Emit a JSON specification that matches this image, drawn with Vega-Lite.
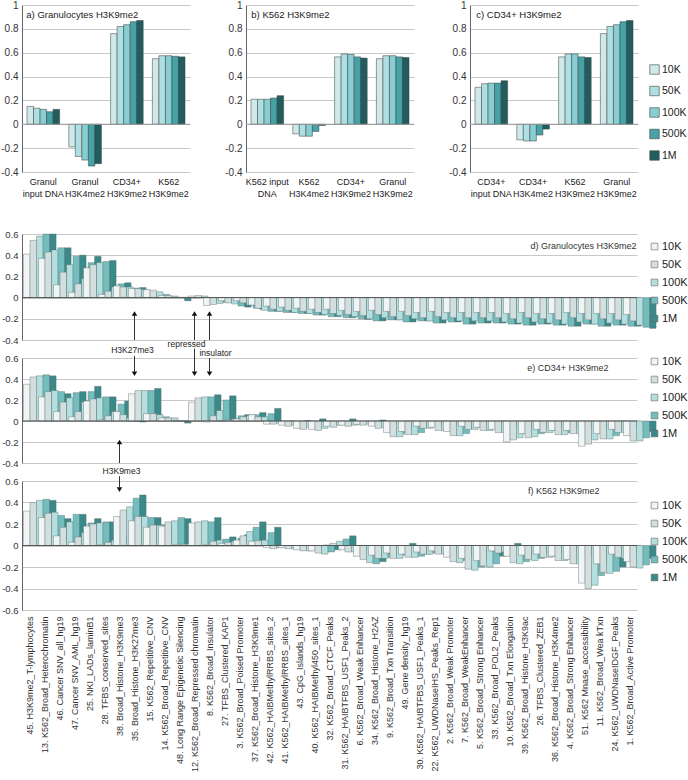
{
"$schema": "https://vega.github.io/schema/vega-lite/v6.json",
"padding": {"left": 0, "top": 0, "right": 0, "bottom": 0},
"background": "white",
"config": {
  "font": "Liberation Sans",
  "view": {"stroke": null},
  "text": {"font": "Liberation Sans"},
  "axis": {"labelFont": "Liberation Sans", "labelColor": "#333", "gridColor": "#c8c8c8", "domainColor": "#777", "tickColor": "#888", "title": null, "labelOverlap": false, "tickCount": 20},
  "legend": {"labelFont": "Liberation Sans"}
},
"datasets": {
"one": [{}],
"top": [
{"p":"a","c":"Granul\ninput DNA","r":"10K","v":0.15},{"p":"a","c":"Granul\ninput DNA","r":"50K","v":0.135},{"p":"a","c":"Granul\ninput DNA","r":"100K","v":0.125},{"p":"a","c":"Granul\ninput DNA","r":"500K","v":0.105},{"p":"a","c":"Granul\ninput DNA","r":"1M","v":0.125},
{"p":"a","c":"Granul\nH3K4me2","r":"10K","v":-0.19},{"p":"a","c":"Granul\nH3K4me2","r":"50K","v":-0.27},{"p":"a","c":"Granul\nH3K4me2","r":"100K","v":-0.30},{"p":"a","c":"Granul\nH3K4me2","r":"500K","v":-0.35},{"p":"a","c":"Granul\nH3K4me2","r":"1M","v":-0.33},
{"p":"a","c":"CD34+\nH3K9me2","r":"10K","v":0.76},{"p":"a","c":"CD34+\nH3K9me2","r":"50K","v":0.82},{"p":"a","c":"CD34+\nH3K9me2","r":"100K","v":0.835},{"p":"a","c":"CD34+\nH3K9me2","r":"500K","v":0.86},{"p":"a","c":"CD34+\nH3K9me2","r":"1M","v":0.87},
{"p":"a","c":"K562\nH3K9me2","r":"10K","v":0.55},{"p":"a","c":"K562\nH3K9me2","r":"50K","v":0.575},{"p":"a","c":"K562\nH3K9me2","r":"100K","v":0.575},{"p":"a","c":"K562\nH3K9me2","r":"500K","v":0.57},{"p":"a","c":"K562\nH3K9me2","r":"1M","v":0.565},
{"p":"b","c":"K562 input\nDNA","r":"10K","v":0.21},{"p":"b","c":"K562 input\nDNA","r":"50K","v":0.21},{"p":"b","c":"K562 input\nDNA","r":"100K","v":0.21},{"p":"b","c":"K562 input\nDNA","r":"500K","v":0.22},{"p":"b","c":"K562 input\nDNA","r":"1M","v":0.24},
{"p":"b","c":"K562\nH3K4me2","r":"10K","v":-0.08},{"p":"b","c":"K562\nH3K4me2","r":"50K","v":-0.10},{"p":"b","c":"K562\nH3K4me2","r":"100K","v":-0.10},{"p":"b","c":"K562\nH3K4me2","r":"500K","v":-0.06},{"p":"b","c":"K562\nH3K4me2","r":"1M","v":-0.01},
{"p":"b","c":"CD34+\nH3K9me2","r":"10K","v":0.565},{"p":"b","c":"CD34+\nH3K9me2","r":"50K","v":0.59},{"p":"b","c":"CD34+\nH3K9me2","r":"100K","v":0.585},{"p":"b","c":"CD34+\nH3K9me2","r":"500K","v":0.565},{"p":"b","c":"CD34+\nH3K9me2","r":"1M","v":0.555},
{"p":"b","c":"Granul\nH3K9me2","r":"10K","v":0.55},{"p":"b","c":"Granul\nH3K9me2","r":"50K","v":0.575},{"p":"b","c":"Granul\nH3K9me2","r":"100K","v":0.575},{"p":"b","c":"Granul\nH3K9me2","r":"500K","v":0.565},{"p":"b","c":"Granul\nH3K9me2","r":"1M","v":0.56},
{"p":"c","c":"CD34+\ninput DNA","r":"10K","v":0.31},{"p":"c","c":"CD34+\ninput DNA","r":"50K","v":0.34},{"p":"c","c":"CD34+\ninput DNA","r":"100K","v":0.345},{"p":"c","c":"CD34+\ninput DNA","r":"500K","v":0.345},{"p":"c","c":"CD34+\ninput DNA","r":"1M","v":0.365},
{"p":"c","c":"CD34+\nH3K4me2","r":"10K","v":-0.13},{"p":"c","c":"CD34+\nH3K4me2","r":"50K","v":-0.14},{"p":"c","c":"CD34+\nH3K4me2","r":"100K","v":-0.14},{"p":"c","c":"CD34+\nH3K4me2","r":"500K","v":-0.09},{"p":"c","c":"CD34+\nH3K4me2","r":"1M","v":-0.04},
{"p":"c","c":"K562\nH3K9me2","r":"10K","v":0.565},{"p":"c","c":"K562\nH3K9me2","r":"50K","v":0.59},{"p":"c","c":"K562\nH3K9me2","r":"100K","v":0.59},{"p":"c","c":"K562\nH3K9me2","r":"500K","v":0.565},{"p":"c","c":"K562\nH3K9me2","r":"1M","v":0.56},
{"p":"c","c":"Granul\nH3K9me2","r":"10K","v":0.76},{"p":"c","c":"Granul\nH3K9me2","r":"50K","v":0.82},{"p":"c","c":"Granul\nH3K9me2","r":"100K","v":0.835},{"p":"c","c":"Granul\nH3K9me2","r":"500K","v":0.86},{"p":"c","c":"Granul\nH3K9me2","r":"1M","v":0.87}
],
"d": [
{"i":1,"r":"10K","v":0.41},{"i":1,"r":"50K","v":0.54},{"i":1,"r":"100K","v":0.58},{"i":1,"r":"500K","v":0.6},{"i":1,"r":"1M","v":0.6},
{"i":2,"r":"10K","v":0.37},{"i":2,"r":"50K","v":0.43},{"i":2,"r":"100K","v":0.45},{"i":2,"r":"500K","v":0.47},{"i":2,"r":"1M","v":0.47},
{"i":3,"r":"10K","v":0.12},{"i":3,"r":"50K","v":0.24},{"i":3,"r":"100K","v":0.31},{"i":3,"r":"500K","v":0.39},{"i":3,"r":"1M","v":0.4},
{"i":4,"r":"10K","v":0.05},{"i":4,"r":"50K","v":0.13},{"i":4,"r":"100K","v":0.18},{"i":4,"r":"500K","v":0.33},{"i":4,"r":"1M","v":0.39},
{"i":5,"r":"10K","v":0.28},{"i":5,"r":"50K","v":0.31},{"i":5,"r":"100K","v":0.33},{"i":5,"r":"500K","v":0.34},{"i":5,"r":"1M","v":0.35},
{"i":6,"r":"10K","v":0.03},{"i":6,"r":"50K","v":0.06},{"i":6,"r":"100K","v":0.1},{"i":6,"r":"500K","v":0.13},{"i":6,"r":"1M","v":0.14},
{"i":7,"r":"10K","v":0.11},{"i":7,"r":"50K","v":0.1},{"i":7,"r":"100K","v":0.1},{"i":7,"r":"500K","v":0.09},{"i":7,"r":"1M","v":0.095},
{"i":8,"r":"10K","v":0.085},{"i":8,"r":"50K","v":0.085},{"i":8,"r":"100K","v":0.075},{"i":8,"r":"500K","v":0.05},{"i":8,"r":"1M","v":0.03},
{"i":9,"r":"10K","v":0.075},{"i":9,"r":"50K","v":0.07},{"i":9,"r":"100K","v":0.055},{"i":9,"r":"500K","v":0.03},{"i":9,"r":"1M","v":0.01},
{"i":10,"r":"10K","v":0.02},{"i":10,"r":"50K","v":0.02},{"i":10,"r":"100K","v":0.015},{"i":10,"r":"500K","v":0.0},{"i":10,"r":"1M","v":-0.03},
{"i":11,"r":"10K","v":0.003},{"i":11,"r":"50K","v":0.003},{"i":11,"r":"100K","v":0.003},{"i":11,"r":"500K","v":0.003},{"i":11,"r":"1M","v":0.003},
{"i":12,"r":"10K","v":0.015},{"i":12,"r":"50K","v":0.02},{"i":12,"r":"100K","v":0.015},{"i":12,"r":"500K","v":-0.01},{"i":12,"r":"1M","v":-0.03},
{"i":13,"r":"10K","v":-0.075},{"i":13,"r":"50K","v":-0.065},{"i":13,"r":"100K","v":-0.055},{"i":13,"r":"500K","v":-0.045},{"i":13,"r":"1M","v":-0.035},
{"i":14,"r":"10K","v":-0.03},{"i":14,"r":"50K","v":-0.05},{"i":14,"r":"100K","v":-0.06},{"i":14,"r":"500K","v":-0.08},{"i":14,"r":"1M","v":-0.09},
{"i":15,"r":"10K","v":-0.03},{"i":15,"r":"50K","v":-0.05},{"i":15,"r":"100K","v":-0.07},{"i":15,"r":"500K","v":-0.1},{"i":15,"r":"1M","v":-0.11},
{"i":16,"r":"10K","v":-0.07},{"i":16,"r":"50K","v":-0.1},{"i":16,"r":"100K","v":-0.12},{"i":16,"r":"500K","v":-0.13},{"i":16,"r":"1M","v":-0.13},
{"i":17,"r":"10K","v":-0.08},{"i":17,"r":"50K","v":-0.11},{"i":17,"r":"100K","v":-0.13},{"i":17,"r":"500K","v":-0.14},{"i":17,"r":"1M","v":-0.14},
{"i":18,"r":"10K","v":-0.09},{"i":18,"r":"50K","v":-0.12},{"i":18,"r":"100K","v":-0.14},{"i":18,"r":"500K","v":-0.15},{"i":18,"r":"1M","v":-0.15},
{"i":19,"r":"10K","v":-0.1},{"i":19,"r":"50K","v":-0.13},{"i":19,"r":"100K","v":-0.15},{"i":19,"r":"500K","v":-0.165},{"i":19,"r":"1M","v":-0.165},
{"i":20,"r":"10K","v":-0.11},{"i":20,"r":"50K","v":-0.14},{"i":20,"r":"100K","v":-0.16},{"i":20,"r":"500K","v":-0.18},{"i":20,"r":"1M","v":-0.18},
{"i":21,"r":"10K","v":-0.11},{"i":21,"r":"50K","v":-0.15},{"i":21,"r":"100K","v":-0.17},{"i":21,"r":"500K","v":-0.19},{"i":21,"r":"1M","v":-0.19},
{"i":22,"r":"10K","v":-0.12},{"i":22,"r":"50K","v":-0.16},{"i":22,"r":"100K","v":-0.18},{"i":22,"r":"500K","v":-0.2},{"i":22,"r":"1M","v":-0.205},
{"i":23,"r":"10K","v":-0.13},{"i":23,"r":"50K","v":-0.17},{"i":23,"r":"100K","v":-0.2},{"i":23,"r":"500K","v":-0.22},{"i":23,"r":"1M","v":-0.22},
{"i":24,"r":"10K","v":-0.12},{"i":24,"r":"50K","v":-0.16},{"i":24,"r":"100K","v":-0.19},{"i":24,"r":"500K","v":-0.21},{"i":24,"r":"1M","v":-0.21},
{"i":25,"r":"10K","v":-0.13},{"i":25,"r":"50K","v":-0.18},{"i":25,"r":"100K","v":-0.21},{"i":25,"r":"500K","v":-0.23},{"i":25,"r":"1M","v":-0.23},
{"i":26,"r":"10K","v":-0.13},{"i":26,"r":"50K","v":-0.17},{"i":26,"r":"100K","v":-0.2},{"i":26,"r":"500K","v":-0.22},{"i":26,"r":"1M","v":-0.22},
{"i":27,"r":"10K","v":-0.14},{"i":27,"r":"50K","v":-0.19},{"i":27,"r":"100K","v":-0.22},{"i":27,"r":"500K","v":-0.24},{"i":27,"r":"1M","v":-0.24},
{"i":28,"r":"10K","v":-0.13},{"i":28,"r":"50K","v":-0.18},{"i":28,"r":"100K","v":-0.21},{"i":28,"r":"500K","v":-0.23},{"i":28,"r":"1M","v":-0.23},
{"i":29,"r":"10K","v":-0.14},{"i":29,"r":"50K","v":-0.19},{"i":29,"r":"100K","v":-0.22},{"i":29,"r":"500K","v":-0.25},{"i":29,"r":"1M","v":-0.25},
{"i":30,"r":"10K","v":-0.14},{"i":30,"r":"50K","v":-0.19},{"i":30,"r":"100K","v":-0.22},{"i":30,"r":"500K","v":-0.24},{"i":30,"r":"1M","v":-0.24},
{"i":31,"r":"10K","v":-0.14},{"i":31,"r":"50K","v":-0.19},{"i":31,"r":"100K","v":-0.22},{"i":31,"r":"500K","v":-0.24},{"i":31,"r":"1M","v":-0.24},
{"i":32,"r":"10K","v":-0.14},{"i":32,"r":"50K","v":-0.19},{"i":32,"r":"100K","v":-0.23},{"i":32,"r":"500K","v":-0.25},{"i":32,"r":"1M","v":-0.25},
{"i":33,"r":"10K","v":-0.15},{"i":33,"r":"50K","v":-0.2},{"i":33,"r":"100K","v":-0.24},{"i":33,"r":"500K","v":-0.26},{"i":33,"r":"1M","v":-0.26},
{"i":34,"r":"10K","v":-0.14},{"i":34,"r":"50K","v":-0.19},{"i":34,"r":"100K","v":-0.23},{"i":34,"r":"500K","v":-0.25},{"i":34,"r":"1M","v":-0.25},
{"i":35,"r":"10K","v":-0.15},{"i":35,"r":"50K","v":-0.2},{"i":35,"r":"100K","v":-0.24},{"i":35,"r":"500K","v":-0.26},{"i":35,"r":"1M","v":-0.26},
{"i":36,"r":"10K","v":-0.15},{"i":36,"r":"50K","v":-0.21},{"i":36,"r":"100K","v":-0.25},{"i":36,"r":"500K","v":-0.27},{"i":36,"r":"1M","v":-0.27},
{"i":37,"r":"10K","v":-0.14},{"i":37,"r":"50K","v":-0.19},{"i":37,"r":"100K","v":-0.23},{"i":37,"r":"500K","v":-0.25},{"i":37,"r":"1M","v":-0.25},
{"i":38,"r":"10K","v":-0.15},{"i":38,"r":"50K","v":-0.21},{"i":38,"r":"100K","v":-0.25},{"i":38,"r":"500K","v":-0.27},{"i":38,"r":"1M","v":-0.27},
{"i":39,"r":"10K","v":-0.15},{"i":39,"r":"50K","v":-0.2},{"i":39,"r":"100K","v":-0.24},{"i":39,"r":"500K","v":-0.26},{"i":39,"r":"1M","v":-0.26},
{"i":40,"r":"10K","v":-0.15},{"i":40,"r":"50K","v":-0.21},{"i":40,"r":"100K","v":-0.25},{"i":40,"r":"500K","v":-0.27},{"i":40,"r":"1M","v":-0.27},
{"i":41,"r":"10K","v":-0.16},{"i":41,"r":"50K","v":-0.22},{"i":41,"r":"100K","v":-0.26},{"i":41,"r":"500K","v":-0.28},{"i":41,"r":"1M","v":-0.29}
],
"e": [
{"i":1,"r":"10K","v":0.35},{"i":1,"r":"50K","v":0.42},{"i":1,"r":"100K","v":0.43},{"i":1,"r":"500K","v":0.44},{"i":1,"r":"1M","v":0.43},
{"i":2,"r":"10K","v":0.23},{"i":2,"r":"50K","v":0.28},{"i":2,"r":"100K","v":0.29},{"i":2,"r":"500K","v":0.28},{"i":2,"r":"1M","v":0.26},
{"i":3,"r":"10K","v":0.09},{"i":3,"r":"50K","v":0.18},{"i":3,"r":"100K","v":0.22},{"i":3,"r":"500K","v":0.27},{"i":3,"r":"1M","v":0.28},
{"i":4,"r":"10K","v":0.04},{"i":4,"r":"50K","v":0.09},{"i":4,"r":"100K","v":0.18},{"i":4,"r":"500K","v":0.28},{"i":4,"r":"1M","v":0.33},
{"i":5,"r":"10K","v":0.19},{"i":5,"r":"50K","v":0.21},{"i":5,"r":"100K","v":0.22},{"i":5,"r":"500K","v":0.23},{"i":5,"r":"1M","v":0.23},
{"i":6,"r":"10K","v":0.01},{"i":6,"r":"50K","v":0.05},{"i":6,"r":"100K","v":0.09},{"i":6,"r":"500K","v":0.16},{"i":6,"r":"1M","v":0.19},
{"i":7,"r":"10K","v":0.09},{"i":7,"r":"50K","v":0.06},{"i":7,"r":"100K","v":0.03},{"i":7,"r":"500K","v":-0.005},{"i":7,"r":"1M","v":-0.01},
{"i":8,"r":"10K","v":0.26},{"i":8,"r":"50K","v":0.29},{"i":8,"r":"100K","v":0.29},{"i":8,"r":"500K","v":0.29},{"i":8,"r":"1M","v":0.31},
{"i":9,"r":"10K","v":0.07},{"i":9,"r":"50K","v":0.07},{"i":9,"r":"100K","v":0.06},{"i":9,"r":"500K","v":0.04},{"i":9,"r":"1M","v":0.02},
{"i":10,"r":"10K","v":0.03},{"i":10,"r":"50K","v":0.03},{"i":10,"r":"100K","v":0.03},{"i":10,"r":"500K","v":0.0},{"i":10,"r":"1M","v":-0.02},
{"i":11,"r":"10K","v":0.003},{"i":11,"r":"50K","v":0.003},{"i":11,"r":"100K","v":0.003},{"i":11,"r":"500K","v":0.003},{"i":11,"r":"1M","v":0.003},
{"i":12,"r":"10K","v":0.18},{"i":12,"r":"50K","v":0.22},{"i":12,"r":"100K","v":0.23},{"i":12,"r":"500K","v":0.23},{"i":12,"r":"1M","v":0.25},
{"i":13,"r":"10K","v":-0.01},{"i":13,"r":"50K","v":0.05},{"i":13,"r":"100K","v":0.1},{"i":13,"r":"500K","v":0.2},{"i":13,"r":"1M","v":0.24},
{"i":14,"r":"10K","v":0.005},{"i":14,"r":"50K","v":0.01},{"i":14,"r":"100K","v":0.02},{"i":14,"r":"500K","v":0.05},{"i":14,"r":"1M","v":0.06},
{"i":15,"r":"10K","v":0.02},{"i":15,"r":"50K","v":0.04},{"i":15,"r":"100K","v":0.05},{"i":15,"r":"500K","v":0.06},{"i":15,"r":"1M","v":0.08},
{"i":16,"r":"10K","v":0.06},{"i":16,"r":"50K","v":0.04},{"i":16,"r":"100K","v":0.04},{"i":16,"r":"500K","v":0.07},{"i":16,"r":"1M","v":0.12},
{"i":17,"r":"10K","v":-0.03},{"i":17,"r":"50K","v":-0.03},{"i":17,"r":"100K","v":-0.02},{"i":17,"r":"500K","v":-0.01},{"i":17,"r":"1M","v":0.0},
{"i":18,"r":"10K","v":-0.04},{"i":18,"r":"50K","v":-0.05},{"i":18,"r":"100K","v":-0.04},{"i":18,"r":"500K","v":-0.02},{"i":18,"r":"1M","v":0.005},
{"i":19,"r":"10K","v":-0.07},{"i":19,"r":"50K","v":-0.08},{"i":19,"r":"100K","v":-0.06},{"i":19,"r":"500K","v":-0.03},{"i":19,"r":"1M","v":0.02},
{"i":20,"r":"10K","v":-0.08},{"i":20,"r":"50K","v":-0.09},{"i":20,"r":"100K","v":-0.07},{"i":20,"r":"500K","v":-0.04},{"i":20,"r":"1M","v":-0.02},
{"i":21,"r":"10K","v":-0.05},{"i":21,"r":"50K","v":-0.06},{"i":21,"r":"100K","v":-0.04},{"i":21,"r":"500K","v":-0.02},{"i":21,"r":"1M","v":0.02},
{"i":22,"r":"10K","v":-0.04},{"i":22,"r":"50K","v":-0.05},{"i":22,"r":"100K","v":-0.04},{"i":22,"r":"500K","v":-0.03},{"i":22,"r":"1M","v":-0.01},
{"i":23,"r":"10K","v":-0.03},{"i":23,"r":"50K","v":-0.04},{"i":23,"r":"100K","v":-0.03},{"i":23,"r":"500K","v":-0.02},{"i":23,"r":"1M","v":0.01},
{"i":24,"r":"10K","v":-0.05},{"i":24,"r":"50K","v":-0.07},{"i":24,"r":"100K","v":-0.06},{"i":24,"r":"500K","v":-0.04},{"i":24,"r":"1M","v":-0.02},
{"i":25,"r":"10K","v":-0.11},{"i":25,"r":"50K","v":-0.15},{"i":25,"r":"100K","v":-0.15},{"i":25,"r":"500K","v":-0.12},{"i":25,"r":"1M","v":-0.07},
{"i":26,"r":"10K","v":-0.1},{"i":26,"r":"50K","v":-0.13},{"i":26,"r":"100K","v":-0.13},{"i":26,"r":"500K","v":-0.11},{"i":26,"r":"1M","v":-0.06},
{"i":27,"r":"10K","v":-0.05},{"i":27,"r":"50K","v":-0.07},{"i":27,"r":"100K","v":-0.07},{"i":27,"r":"500K","v":-0.05},{"i":27,"r":"1M","v":-0.03},
{"i":28,"r":"10K","v":-0.06},{"i":28,"r":"50K","v":-0.09},{"i":28,"r":"100K","v":-0.09},{"i":28,"r":"500K","v":-0.07},{"i":28,"r":"1M","v":-0.04},
{"i":29,"r":"10K","v":-0.1},{"i":29,"r":"50K","v":-0.14},{"i":29,"r":"100K","v":-0.14},{"i":29,"r":"500K","v":-0.12},{"i":29,"r":"1M","v":-0.07},
{"i":30,"r":"10K","v":-0.05},{"i":30,"r":"50K","v":-0.08},{"i":30,"r":"100K","v":-0.08},{"i":30,"r":"500K","v":-0.06},{"i":30,"r":"1M","v":-0.03},
{"i":31,"r":"10K","v":-0.06},{"i":31,"r":"50K","v":-0.09},{"i":31,"r":"100K","v":-0.09},{"i":31,"r":"500K","v":-0.07},{"i":31,"r":"1M","v":-0.04},
{"i":32,"r":"10K","v":-0.08},{"i":32,"r":"50K","v":-0.11},{"i":32,"r":"100K","v":-0.11},{"i":32,"r":"500K","v":-0.09},{"i":32,"r":"1M","v":-0.05},
{"i":33,"r":"10K","v":-0.2},{"i":33,"r":"50K","v":-0.18},{"i":33,"r":"100K","v":-0.16},{"i":33,"r":"500K","v":-0.12},{"i":33,"r":"1M","v":-0.07},
{"i":34,"r":"10K","v":-0.12},{"i":34,"r":"50K","v":-0.16},{"i":34,"r":"100K","v":-0.15},{"i":34,"r":"500K","v":-0.12},{"i":34,"r":"1M","v":-0.07},
{"i":35,"r":"10K","v":-0.08},{"i":35,"r":"50K","v":-0.11},{"i":35,"r":"100K","v":-0.11},{"i":35,"r":"500K","v":-0.09},{"i":35,"r":"1M","v":-0.05},
{"i":36,"r":"10K","v":-0.09},{"i":36,"r":"50K","v":-0.13},{"i":36,"r":"100K","v":-0.13},{"i":36,"r":"500K","v":-0.11},{"i":36,"r":"1M","v":-0.06},
{"i":37,"r":"10K","v":-0.09},{"i":37,"r":"50K","v":-0.12},{"i":37,"r":"100K","v":-0.12},{"i":37,"r":"500K","v":-0.1},{"i":37,"r":"1M","v":-0.05},
{"i":38,"r":"10K","v":-0.24},{"i":38,"r":"50K","v":-0.22},{"i":38,"r":"100K","v":-0.18},{"i":38,"r":"500K","v":-0.12},{"i":38,"r":"1M","v":-0.06},
{"i":39,"r":"10K","v":-0.12},{"i":39,"r":"50K","v":-0.17},{"i":39,"r":"100K","v":-0.17},{"i":39,"r":"500K","v":-0.14},{"i":39,"r":"1M","v":-0.09},
{"i":40,"r":"10K","v":-0.08},{"i":40,"r":"50K","v":-0.11},{"i":40,"r":"100K","v":-0.11},{"i":40,"r":"500K","v":-0.09},{"i":40,"r":"1M","v":-0.05},
{"i":41,"r":"10K","v":-0.14},{"i":41,"r":"50K","v":-0.19},{"i":41,"r":"100K","v":-0.19},{"i":41,"r":"500K","v":-0.16},{"i":41,"r":"1M","v":-0.1}
],
"f": [
{"i":1,"r":"10K","v":0.32},{"i":1,"r":"50K","v":0.4},{"i":1,"r":"100K","v":0.42},{"i":1,"r":"500K","v":0.43},{"i":1,"r":"1M","v":0.42},
{"i":2,"r":"10K","v":0.26},{"i":2,"r":"50K","v":0.3},{"i":2,"r":"100K","v":0.31},{"i":2,"r":"500K","v":0.28},{"i":2,"r":"1M","v":0.25},
{"i":3,"r":"10K","v":0.09},{"i":3,"r":"50K","v":0.17},{"i":3,"r":"100K","v":0.22},{"i":3,"r":"500K","v":0.29},{"i":3,"r":"1M","v":0.29},
{"i":4,"r":"10K","v":0.03},{"i":4,"r":"50K","v":0.08},{"i":4,"r":"100K","v":0.12},{"i":4,"r":"500K","v":0.21},{"i":4,"r":"1M","v":0.25},
{"i":5,"r":"10K","v":0.18},{"i":5,"r":"50K","v":0.2},{"i":5,"r":"100K","v":0.21},{"i":5,"r":"500K","v":0.22},{"i":5,"r":"1M","v":0.22},
{"i":6,"r":"10K","v":0.01},{"i":6,"r":"50K","v":0.03},{"i":6,"r":"100K","v":0.05},{"i":6,"r":"500K","v":0.09},{"i":6,"r":"1M","v":0.1},
{"i":7,"r":"10K","v":0.27},{"i":7,"r":"50K","v":0.33},{"i":7,"r":"100K","v":0.36},{"i":7,"r":"500K","v":0.44},{"i":7,"r":"1M","v":0.47},
{"i":8,"r":"10K","v":0.23},{"i":8,"r":"50K","v":0.27},{"i":8,"r":"100K","v":0.27},{"i":8,"r":"500K","v":0.26},{"i":8,"r":"1M","v":0.26},
{"i":9,"r":"10K","v":0.17},{"i":9,"r":"50K","v":0.19},{"i":9,"r":"100K","v":0.19},{"i":9,"r":"500K","v":0.19},{"i":9,"r":"1M","v":0.18},
{"i":10,"r":"10K","v":0.18},{"i":10,"r":"50K","v":0.22},{"i":10,"r":"100K","v":0.23},{"i":10,"r":"500K","v":0.26},{"i":10,"r":"1M","v":0.25},
{"i":11,"r":"10K","v":0.01},{"i":11,"r":"50K","v":0.012},{"i":11,"r":"100K","v":0.015},{"i":11,"r":"500K","v":0.018},{"i":11,"r":"1M","v":0.02},
{"i":12,"r":"10K","v":0.21},{"i":12,"r":"50K","v":0.22},{"i":12,"r":"100K","v":0.23},{"i":12,"r":"500K","v":0.22},{"i":12,"r":"1M","v":0.26},
{"i":13,"r":"10K","v":0.01},{"i":13,"r":"50K","v":0.04},{"i":13,"r":"100K","v":0.05},{"i":13,"r":"500K","v":0.06},{"i":13,"r":"1M","v":0.08},
{"i":14,"r":"10K","v":0.02},{"i":14,"r":"50K","v":0.03},{"i":14,"r":"100K","v":0.04},{"i":14,"r":"500K","v":0.07},{"i":14,"r":"1M","v":0.1},
{"i":15,"r":"10K","v":0.05},{"i":15,"r":"50K","v":0.09},{"i":15,"r":"100K","v":0.13},{"i":15,"r":"500K","v":0.17},{"i":15,"r":"1M","v":0.22},
{"i":16,"r":"10K","v":0.04},{"i":16,"r":"50K","v":0.045},{"i":16,"r":"100K","v":0.05},{"i":16,"r":"500K","v":0.12},{"i":16,"r":"1M","v":0.17},
{"i":17,"r":"10K","v":-0.02},{"i":17,"r":"50K","v":-0.03},{"i":17,"r":"100K","v":-0.02},{"i":17,"r":"500K","v":-0.01},{"i":17,"r":"1M","v":-0.005},
{"i":18,"r":"10K","v":-0.02},{"i":18,"r":"50K","v":-0.03},{"i":18,"r":"100K","v":-0.03},{"i":18,"r":"500K","v":-0.02},{"i":18,"r":"1M","v":-0.01},
{"i":19,"r":"10K","v":-0.04},{"i":19,"r":"50K","v":-0.05},{"i":19,"r":"100K","v":-0.05},{"i":19,"r":"500K","v":-0.04},{"i":19,"r":"1M","v":-0.03},
{"i":20,"r":"10K","v":-0.05},{"i":20,"r":"50K","v":-0.07},{"i":20,"r":"100K","v":-0.08},{"i":20,"r":"500K","v":-0.06},{"i":20,"r":"1M","v":-0.04},
{"i":21,"r":"10K","v":0.005},{"i":21,"r":"50K","v":0.02},{"i":21,"r":"100K","v":0.04},{"i":21,"r":"500K","v":0.06},{"i":21,"r":"1M","v":0.09},
{"i":22,"r":"10K","v":-0.04},{"i":22,"r":"50K","v":-0.06},{"i":22,"r":"100K","v":-0.06},{"i":22,"r":"500K","v":-0.07},{"i":22,"r":"1M","v":-0.04},
{"i":23,"r":"10K","v":-0.1},{"i":23,"r":"50K","v":-0.13},{"i":23,"r":"100K","v":-0.16},{"i":23,"r":"500K","v":-0.17},{"i":23,"r":"1M","v":-0.15},
{"i":24,"r":"10K","v":-0.09},{"i":24,"r":"50K","v":-0.12},{"i":24,"r":"100K","v":-0.12},{"i":24,"r":"500K","v":-0.11},{"i":24,"r":"1M","v":-0.09},
{"i":25,"r":"10K","v":-0.07},{"i":25,"r":"50K","v":-0.12},{"i":25,"r":"100K","v":-0.12},{"i":25,"r":"500K","v":-0.09},{"i":25,"r":"1M","v":0.02},
{"i":26,"r":"10K","v":-0.08},{"i":26,"r":"50K","v":-0.11},{"i":26,"r":"100K","v":-0.11},{"i":26,"r":"500K","v":-0.1},{"i":26,"r":"1M","v":-0.08},
{"i":27,"r":"10K","v":-0.06},{"i":27,"r":"50K","v":-0.08},{"i":27,"r":"100K","v":-0.08},{"i":27,"r":"500K","v":-0.07},{"i":27,"r":"1M","v":-0.05},
{"i":28,"r":"10K","v":-0.05},{"i":28,"r":"50K","v":-0.08},{"i":28,"r":"100K","v":-0.08},{"i":28,"r":"500K","v":-0.07},{"i":28,"r":"1M","v":-0.06},
{"i":29,"r":"10K","v":-0.11},{"i":29,"r":"50K","v":-0.15},{"i":29,"r":"100K","v":-0.16},{"i":29,"r":"500K","v":-0.14},{"i":29,"r":"1M","v":-0.1},
{"i":30,"r":"10K","v":-0.12},{"i":30,"r":"50K","v":-0.22},{"i":30,"r":"100K","v":-0.23},{"i":30,"r":"500K","v":-0.2},{"i":30,"r":"1M","v":-0.12},
{"i":31,"r":"10K","v":-0.14},{"i":31,"r":"50K","v":-0.19},{"i":31,"r":"100K","v":-0.2},{"i":31,"r":"500K","v":-0.17},{"i":31,"r":"1M","v":-0.1},
{"i":32,"r":"10K","v":-0.05},{"i":32,"r":"50K","v":-0.07},{"i":32,"r":"100K","v":-0.06},{"i":32,"r":"500K","v":-0.04},{"i":32,"r":"1M","v":0.02},
{"i":33,"r":"10K","v":-0.1},{"i":33,"r":"50K","v":-0.16},{"i":33,"r":"100K","v":-0.17},{"i":33,"r":"500K","v":-0.15},{"i":33,"r":"1M","v":-0.1},
{"i":34,"r":"10K","v":-0.09},{"i":34,"r":"50K","v":-0.13},{"i":34,"r":"100K","v":-0.14},{"i":34,"r":"500K","v":-0.12},{"i":34,"r":"1M","v":-0.07},
{"i":35,"r":"10K","v":-0.08},{"i":35,"r":"50K","v":-0.11},{"i":35,"r":"100K","v":-0.11},{"i":35,"r":"500K","v":-0.1},{"i":35,"r":"1M","v":-0.07},
{"i":36,"r":"10K","v":-0.1},{"i":36,"r":"50K","v":-0.14},{"i":36,"r":"100K","v":-0.14},{"i":36,"r":"500K","v":-0.12},{"i":36,"r":"1M","v":-0.07},
{"i":37,"r":"10K","v":-0.13},{"i":37,"r":"50K","v":-0.17},{"i":37,"r":"100K","v":-0.17},{"i":37,"r":"500K","v":-0.14},{"i":37,"r":"1M","v":-0.08},
{"i":38,"r":"10K","v":-0.35},{"i":38,"r":"50K","v":-0.4},{"i":38,"r":"100K","v":-0.37},{"i":38,"r":"500K","v":-0.28},{"i":38,"r":"1M","v":-0.16},
{"i":39,"r":"10K","v":-0.17},{"i":39,"r":"50K","v":-0.25},{"i":39,"r":"100K","v":-0.26},{"i":39,"r":"500K","v":-0.24},{"i":39,"r":"1M","v":-0.2},
{"i":40,"r":"10K","v":-0.08},{"i":40,"r":"50K","v":-0.11},{"i":40,"r":"100K","v":-0.12},{"i":40,"r":"500K","v":-0.1},{"i":40,"r":"1M","v":-0.07},
{"i":41,"r":"10K","v":-0.15},{"i":41,"r":"50K","v":-0.2},{"i":41,"r":"100K","v":-0.21},{"i":41,"r":"500K","v":-0.18},{"i":41,"r":"1M","v":-0.12}
]
},
"spacing": 31,
"resolve": {"scale": {"color": "independent"}, "legend": {"color": "independent"}},
"vconcat": [
{
 "hconcat": [
  {
   "width": 168, "height": 167,
   "data": {"name": "top"},
   "transform": [{"filter": "datum.p == 'a'"}],
   "layer": [
    {"mark": {"type": "bar", "stroke": "#3a3a3a", "strokeWidth": 0.5},
     "encoding": {
      "x": {"field": "c", "type": "nominal", "sort": null, "scale": {"paddingInner": 0.22, "paddingOuter": 0.12}, "axis": {"labelAngle": 0, "labelExpr": "split(datum.value, '\\n')", "labelFontSize": 9, "labelColor": "#222", "labelLineHeight": 12, "domain": false, "ticks": false, "labelPadding": 5}},
      "xOffset": {"field": "r", "type": "nominal", "sort": ["10K","50K","100K","500K","1M"]},
      "y": {"field": "v", "type": "quantitative", "scale": {"domain": [-0.4, 1], "nice": false}, "axis": {"values": [-0.4,-0.2,0,0.2,0.4,0.6,0.8,1], "tickCount": 20, "labelExpr": "'' + datum.value", "labelOverlap": false, "tickSize": 0, "labelPadding": 4, "labelFontSize": 10, "domainColor": "#666"}},
      "color": {"field": "r", "type": "nominal", "scale": {"domain": ["10K","50K","100K","500K","1M"], "range": ["#cfe9eb","#aedfe2","#86ced2","#45a2a6","#215d5f"]}, "legend": null}
     }},
    {"data": {"name": "one"}, "mark": {"type": "rule", "color": "#999"}, "encoding": {"y": {"datum": 0}}},
    {"data": {"name": "one"}, "mark": {"type": "text", "fontSize": 9.5, "color": "#222", "align": "left", "dx": -17}, "encoding": {"x": {"datum": "Granul\ninput DNA", "type": "nominal"}, "y": {"datum": 0.915}, "text": {"value": "a) Granulocytes H3K9me2"}}}
   ]
  },
  {
   "width": 168, "height": 167,
   "data": {"name": "top"},
   "transform": [{"filter": "datum.p == 'b'"}],
   "layer": [
    {"mark": {"type": "bar", "stroke": "#3a3a3a", "strokeWidth": 0.5},
     "encoding": {
      "x": {"field": "c", "type": "nominal", "sort": null, "scale": {"paddingInner": 0.22, "paddingOuter": 0.12}, "axis": {"labelAngle": 0, "labelExpr": "split(datum.value, '\\n')", "labelFontSize": 9, "labelColor": "#222", "labelLineHeight": 12, "domain": false, "ticks": false, "labelPadding": 5}},
      "xOffset": {"field": "r", "type": "nominal", "sort": ["10K","50K","100K","500K","1M"]},
      "y": {"field": "v", "type": "quantitative", "scale": {"domain": [-0.4, 1], "nice": false}, "axis": {"values": [-0.4,-0.2,0,0.2,0.4,0.6,0.8,1], "tickCount": 20, "labelExpr": "'' + datum.value", "labelOverlap": false, "tickSize": 0, "labelPadding": 4, "labelFontSize": 10, "domainColor": "#666"}},
      "color": {"field": "r", "type": "nominal", "scale": {"domain": ["10K","50K","100K","500K","1M"], "range": ["#cfe9eb","#aedfe2","#86ced2","#45a2a6","#215d5f"]}, "legend": null}
     }},
    {"data": {"name": "one"}, "mark": {"type": "rule", "color": "#999"}, "encoding": {"y": {"datum": 0}}},
    {"data": {"name": "one"}, "mark": {"type": "text", "fontSize": 9.5, "color": "#222", "align": "left", "dx": -16}, "encoding": {"x": {"datum": "K562 input\nDNA", "type": "nominal"}, "y": {"datum": 0.915}, "text": {"value": "b) K562 H3K9me2"}}}
   ]
  },
  {
   "width": 168, "height": 167,
   "data": {"name": "top"},
   "transform": [{"filter": "datum.p == 'c'"}],
   "layer": [
    {"mark": {"type": "bar", "stroke": "#3a3a3a", "strokeWidth": 0.5},
     "encoding": {
      "x": {"field": "c", "type": "nominal", "sort": null, "scale": {"paddingInner": 0.22, "paddingOuter": 0.12}, "axis": {"labelAngle": 0, "labelExpr": "split(datum.value, '\\n')", "labelFontSize": 9, "labelColor": "#222", "labelLineHeight": 12, "domain": false, "ticks": false, "labelPadding": 5}},
      "xOffset": {"field": "r", "type": "nominal", "sort": ["10K","50K","100K","500K","1M"]},
      "y": {"field": "v", "type": "quantitative", "scale": {"domain": [-0.4, 1], "nice": false}, "axis": {"values": [-0.4,-0.2,0,0.2,0.4,0.6,0.8,1], "tickCount": 20, "labelExpr": "'' + datum.value", "labelOverlap": false, "tickSize": 0, "labelPadding": 4, "labelFontSize": 10, "domainColor": "#666"}},
      "color": {"field": "r", "type": "nominal", "scale": {"domain": ["10K","50K","100K","500K","1M"], "range": ["#cfe9eb","#aedfe2","#86ced2","#45a2a6","#215d5f"]},
       "legend": {"orient": "none", "legendX": 179, "legendY": 59, "title": null, "symbolType": "square", "symbolSize": 90, "symbolStrokeColor": "#444", "symbolStrokeWidth": 0.6, "labelFontSize": 10.5, "labelColor": "#222", "rowPadding": 8.5, "labelOffset": 2}}
     }},
    {"data": {"name": "one"}, "mark": {"type": "rule", "color": "#999"}, "encoding": {"y": {"datum": 0}}},
    {"data": {"name": "one"}, "mark": {"type": "text", "fontSize": 9.5, "color": "#222", "align": "left", "dx": -15}, "encoding": {"x": {"datum": "CD34+\ninput DNA", "type": "nominal"}, "y": {"datum": 0.915}, "text": {"value": "c) CD34+ H3K9me2"}}}
   ]
  }
 ],
 "spacing": 56,
 "bounds": "flush",
 "resolve": {"scale": {"color": "independent"}, "legend": {"color": "independent"}}
},
{
 "vconcat": [
  {
   "width": 615, "height": 106,
   "data": {"name": "d"},
   "layer": [
    {"mark": {"type": "bar", "stroke": "#5e6a6a", "strokeWidth": 0.4},
     "encoding": {
      "x": {"field": "i", "type": "ordinal", "scale": {"paddingInner": 0.2, "paddingOuter": 0.1}, "axis": null},
      "xOffset": {"field": "r", "type": "nominal", "sort": ["10K","50K","100K","500K","1M"]},
      "y": {"field": "v", "type": "quantitative", "scale": {"domain": [-0.4, 0.6], "nice": false}, "axis": {"values": [-0.4,-0.2,0,0.2,0.4,0.6], "tickCount": 20, "labelExpr": "'' + datum.value", "labelOverlap": false, "tickSize": 0, "labelPadding": 4, "labelFontSize": 9.5, "domainColor": "#666"}},
      "color": {"field": "r", "type": "nominal", "scale": {"domain": ["10K","50K","100K","500K","1M"], "range": ["#f1f4f4","#d3dfdf","#b4dfdf","#72bebe","#3a8a8a"]},
       "legend": {"orient": "none", "legendX": 627, "legendY": 7, "title": null, "symbolType": "square", "symbolSize": 45, "symbolStrokeColor": "#666", "symbolStrokeWidth": 0.6, "labelFontSize": 11, "labelColor": "#222", "rowPadding": 6, "labelOffset": 2}}
     }},
    {"data": {"name": "one"}, "mark": {"type": "rule", "color": "#555"}, "encoding": {"y": {"datum": 0}}},
    {"data": {"values": [{"i": 8}, {"i": 12}, {"i": 13}]}, "mark": {"type": "rule", "color": "#333", "strokeWidth": 1}, "encoding": {"x": {"field": "i", "type": "ordinal"}, "y": {"datum": -0.4}, "y2": {"datum": -0.16}}},
    {"data": {"values": [{"i": 8}, {"i": 12}, {"i": 13}]}, "mark": {"type": "point", "shape": "triangle-up", "filled": true, "color": "#111", "size": 30, "opacity": 1}, "encoding": {"x": {"field": "i", "type": "ordinal"}, "y": {"datum": -0.15}}},
    {"data": {"name": "one"}, "mark": {"type": "text", "fontSize": 9, "color": "#333", "align": "right", "dx": 7}, "encoding": {"x": {"datum": 41, "type": "ordinal"}, "y": {"datum": 0.487}, "text": {"value": "d) Granulocytes H3K9me2"}}}
   ]
  },
  {
   "width": 615, "height": 105,
   "data": {"name": "e"},
   "layer": [
    {"mark": {"type": "bar", "stroke": "#5e6a6a", "strokeWidth": 0.4},
     "encoding": {
      "x": {"field": "i", "type": "ordinal", "scale": {"paddingInner": 0.2, "paddingOuter": 0.1}, "axis": null},
      "xOffset": {"field": "r", "type": "nominal", "sort": ["10K","50K","100K","500K","1M"]},
      "y": {"field": "v", "type": "quantitative", "scale": {"domain": [-0.4, 0.6], "nice": false}, "axis": {"values": [-0.4,-0.2,0,0.2,0.4,0.6], "tickCount": 20, "labelExpr": "'' + datum.value", "labelOverlap": false, "tickSize": 0, "labelPadding": 4, "labelFontSize": 9.5, "domainColor": "#666"}},
      "color": {"field": "r", "type": "nominal", "scale": {"domain": ["10K","50K","100K","500K","1M"], "range": ["#f1f4f4","#d3dfdf","#b4dfdf","#72bebe","#3a8a8a"]},
       "legend": {"orient": "none", "legendX": 627, "legendY": -2, "title": null, "symbolType": "square", "symbolSize": 45, "symbolStrokeColor": "#666", "symbolStrokeWidth": 0.6, "labelFontSize": 11, "labelColor": "#222", "rowPadding": 6, "labelOffset": 2}}
     }},
    {"data": {"name": "one"}, "mark": {"type": "rule", "color": "#555"}, "encoding": {"y": {"datum": 0}}},
    {"data": {"name": "one"}, "mark": {"type": "rule", "color": "#333", "strokeWidth": 1}, "encoding": {"x": {"datum": 8, "type": "ordinal"}, "y": {"datum": 0.62}, "y2": {"datum": 0.47}}},
    {"data": {"name": "one"}, "mark": {"type": "rule", "color": "#333", "strokeWidth": 1}, "encoding": {"x": {"datum": 12, "type": "ordinal"}, "y": {"datum": 0.69}, "y2": {"datum": 0.47}}},
    {"data": {"name": "one"}, "mark": {"type": "rule", "color": "#333", "strokeWidth": 1}, "encoding": {"x": {"datum": 13, "type": "ordinal"}, "y": {"datum": 0.6}, "y2": {"datum": 0.47}}},
    {"data": {"values": [{"i": 8}, {"i": 12}, {"i": 13}]}, "mark": {"type": "point", "shape": "triangle-down", "filled": true, "color": "#111", "size": 30, "opacity": 1}, "encoding": {"x": {"field": "i", "type": "ordinal"}, "y": {"datum": 0.45}}},
    {"data": {"name": "one"}, "mark": {"type": "text", "fontSize": 8.5, "color": "#222", "dx": -2}, "encoding": {"x": {"datum": 8, "type": "ordinal"}, "y": {"datum": 0.675}, "text": {"value": "H3K27me3"}}},
    {"data": {"name": "one"}, "mark": {"type": "text", "fontSize": 8.5, "color": "#222", "dx": -8}, "encoding": {"x": {"datum": 12, "type": "ordinal"}, "y": {"datum": 0.735}, "text": {"value": "repressed"}}},
    {"data": {"name": "one"}, "mark": {"type": "text", "fontSize": 8.5, "color": "#222", "dx": 6}, "encoding": {"x": {"datum": 13, "type": "ordinal"}, "y": {"datum": 0.65}, "text": {"value": "insulator"}}},
    {"data": {"name": "one"}, "mark": {"type": "rule", "color": "#333", "strokeWidth": 1}, "encoding": {"x": {"datum": 7, "type": "ordinal"}, "y": {"datum": -0.4}, "y2": {"datum": -0.21}}},
    {"data": {"name": "one"}, "mark": {"type": "point", "shape": "triangle-up", "filled": true, "color": "#111", "size": 30, "opacity": 1}, "encoding": {"x": {"datum": 7, "type": "ordinal"}, "y": {"datum": -0.2}}},
    {"data": {"name": "one"}, "mark": {"type": "text", "fontSize": 9, "color": "#333", "align": "right", "dx": -21}, "encoding": {"x": {"datum": 41, "type": "ordinal"}, "y": {"datum": 0.505}, "text": {"value": "e) CD34+ H3K9me2"}}}
   ]
  },
  {
   "width": 615, "height": 129,
   "data": {"name": "f"},
   "layer": [
    {"mark": {"type": "bar", "stroke": "#5e6a6a", "strokeWidth": 0.4},
     "encoding": {
      "x": {"field": "i", "type": "ordinal", "scale": {"paddingInner": 0.2, "paddingOuter": 0.1}, "axis": {"labelAngle": 270, "labelAlign": "right", "labelBaseline": "middle", "labelFontSize": 9, "labelColor": "#333", "labelPadding": 6, "labelLimit": 300, "domain": false, "ticks": false, "labelExpr": "['45. H3K9me2_T-lymphocytes','13. K562_Broad_Heterochromatin','46. Cancer SNV_all_hg19','47. Cancer SNV_AML_hg19','25. NKI_LADs_laminB1','28. TFBS_conserved_sites','38. Broad_Histone_H3K9me3','35. Broad_Histone_H3K27me3','15. K562_Repetitive_CNV','14. K562_Broad_Repetitive_CNV','48. Long Range Epigenetic Silencing','12. K562_Broad_Repressed chromatin','8. K562_Broad_Insulator','27. TFBS_Clustered_KAP1','3. K562_Broad_Poised Promoter','37. K562_Broad_Histone_H3K9me1','42. K562_HAIBMethylRRBS_sites_2','41. K562_HAIBMethylRRBS_sites_1','43. CpG_Islands_hg19','40. K562_HAIBMethyl450_sites_1','32. K562_Broad_CTCF_Peaks','31. K562_HAIBTFBS_USF1_Peaks_2','6. K562_Broad_Weak Enhancer','34. K562_Broad_Histone_H2AZ','9. K562_Broad_Txn Transition','49. Gene density_hg19','30. K562_HAIBTFBS_USF1_Peaks_1','22. K562_UWDNaseIHS_Peaks_Rep1','2. K562_Broad_Weak Promoter','7. K562_Broad_WeakEnhancer','5. K562_Broad_Strong Enhancer','33. K562_Broad_POL2_Peaks','10. K562_Broad_Txn Elongation','39. K562_Broad_Histone_H3K9ac','26. TFBS_Clustered_ZEB1','36. K562_Broad_Histone_H3K4me2','4. K562_Broad_Strong Enhancer','51. K562 Mnase_accessibility','11. K562_Broad_Wea kTxn','24. K562_UWDNaseIDGF_Peaks','1. K562_Broad_Active Promoter'][datum.value - 1]"}},
      "xOffset": {"field": "r", "type": "nominal", "sort": ["10K","50K","100K","500K","1M"]},
      "y": {"field": "v", "type": "quantitative", "scale": {"domain": [-0.6, 0.6], "nice": false}, "axis": {"values": [-0.6,-0.4,-0.2,0,0.2,0.4,0.6], "tickCount": 20, "labelExpr": "'' + datum.value", "labelOverlap": false, "tickSize": 0, "labelPadding": 4, "labelFontSize": 9.5, "domainColor": "#666"}},
      "color": {"field": "r", "type": "nominal", "scale": {"domain": ["10K","50K","100K","500K","1M"], "range": ["#f1f4f4","#d3dfdf","#b4dfdf","#72bebe","#3a8a8a"]},
       "legend": {"orient": "none", "legendX": 627, "legendY": 19, "title": null, "symbolType": "square", "symbolSize": 45, "symbolStrokeColor": "#666", "symbolStrokeWidth": 0.6, "labelFontSize": 11, "labelColor": "#222", "rowPadding": 6, "labelOffset": 2}}
     }},
    {"data": {"name": "one"}, "mark": {"type": "rule", "color": "#555"}, "encoding": {"y": {"datum": 0}}},
    {"data": {"name": "one"}, "mark": {"type": "rule", "color": "#333", "strokeWidth": 1}, "encoding": {"x": {"datum": 7, "type": "ordinal"}, "y": {"datum": 0.645}, "y2": {"datum": 0.54}}},
    {"data": {"name": "one"}, "mark": {"type": "point", "shape": "triangle-down", "filled": true, "color": "#111", "size": 30, "opacity": 1}, "encoding": {"x": {"datum": 7, "type": "ordinal"}, "y": {"datum": 0.52}}},
    {"data": {"name": "one"}, "mark": {"type": "text", "fontSize": 8.5, "color": "#222", "dx": 2}, "encoding": {"x": {"datum": 7, "type": "ordinal"}, "y": {"datum": 0.69}, "text": {"value": "H3K9me3"}}},
    {"data": {"name": "one"}, "mark": {"type": "text", "fontSize": 9, "color": "#333", "align": "right", "dx": -30}, "encoding": {"x": {"datum": 41, "type": "ordinal"}, "y": {"datum": 0.507}, "text": {"value": "f) K562 H3K9me2"}}}
   ]
  }
 ],
 "spacing": 18,
 "bounds": "flush",
 "resolve": {"scale": {"color": "independent"}, "legend": {"color": "independent"}}
}
]
}
